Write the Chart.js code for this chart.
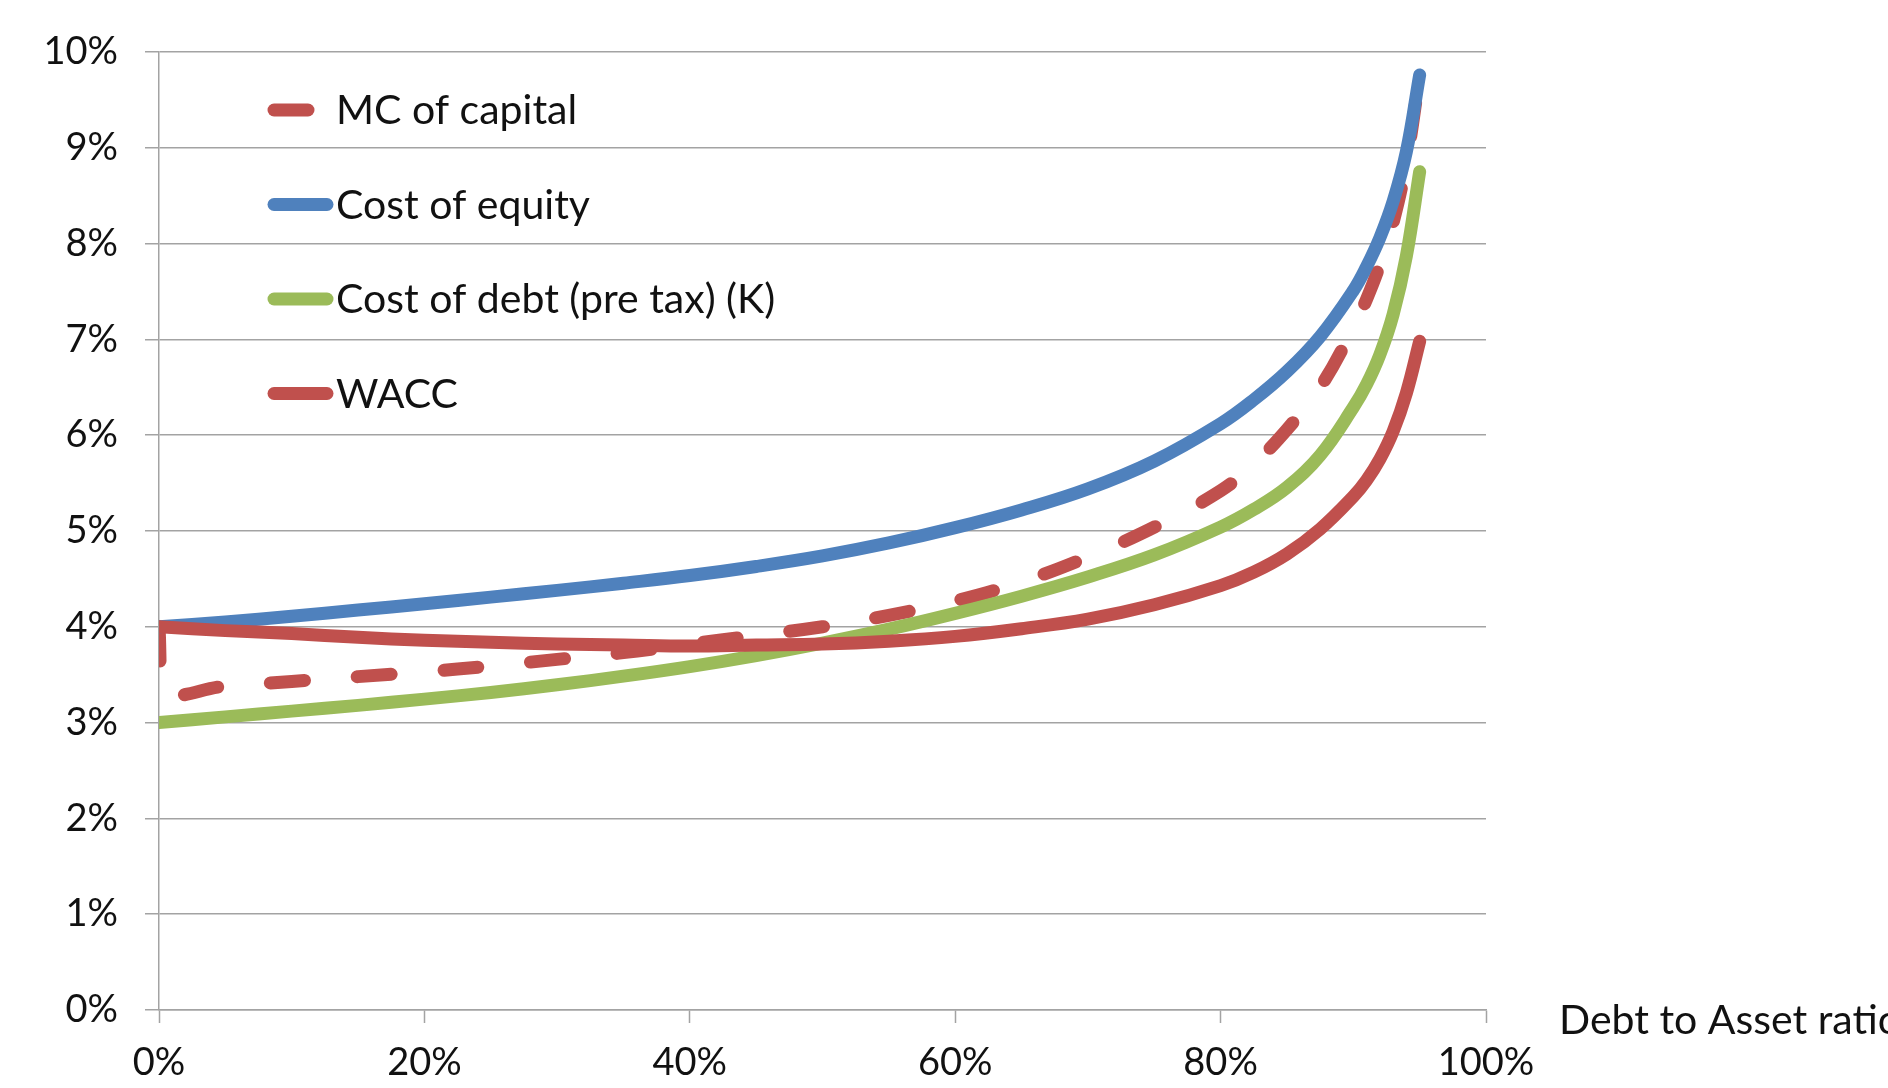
<!DOCTYPE html>
<html>
<head>
<meta charset="utf-8">
<script src="https://cdn.jsdelivr.net/npm/chart.js@4/dist/chart.umd.min.js"></script>
<style>
  html, body { margin: 0; padding: 0; background: #ffffff; }
  #wrap { width: 1888px; height: 1088px; }
</style>
</head>
<body>
<div id="wrap"><canvas id="chart" width="1888" height="1088"></canvas></div>
<script>
// Series names, in legend order
const seriesNames = ['MC of capital', 'Cost of equity', 'Cost of debt (pre tax) (K)', 'WACC'];
const axisTitle = 'Debt to Asset ratio';

// Debt to asset ratio (%) for the equity, debt and WACC curves
const debtRatio = [0, 5, 10, 15, 20, 25, 30, 35, 40, 45, 50, 55, 60, 65, 70, 75, 80, 82.5, 85, 87.5, 90, 91, 92, 93, 94, 95];

// Cost of equity (%)
const costOfEquity = [4.00, 4.05, 4.11, 4.175, 4.24, 4.31, 4.38, 4.455, 4.535, 4.63, 4.74, 4.875, 5.035, 5.22, 5.44, 5.73, 6.12, 6.37, 6.665, 7.03, 7.51, 7.76, 8.06, 8.44, 8.96, 9.76];

// Cost of debt, pre tax (%)
const costOfDebt = [3.00, 3.06, 3.12, 3.18, 3.245, 3.315, 3.395, 3.485, 3.585, 3.70, 3.83, 3.975, 4.14, 4.32, 4.52, 4.75, 5.04, 5.225, 5.455, 5.79, 6.29, 6.53, 6.84, 7.26, 7.87, 8.75];

// Weighted average cost of capital (%)
const wacc = [4.00, 3.96, 3.93, 3.89, 3.86, 3.84, 3.82, 3.81, 3.80, 3.81, 3.82, 3.85, 3.90, 3.98, 4.08, 4.23, 4.43, 4.57, 4.76, 5.02, 5.36, 5.53, 5.75, 6.04, 6.44, 6.98];

// Marginal cost of capital: its own ratio grid (drops right after 0% debt)
const mcDebtRatio = [0, 0.3, 5, 10, 15, 20, 25, 30, 35, 40, 45, 50, 55, 60, 65, 70, 75, 80, 82.5, 85, 87.5, 90, 91, 92, 93, 94, 95];
const mcOfCapital = [4.00, 3.33, 3.38, 3.43, 3.48, 3.53, 3.59, 3.66, 3.73, 3.82, 3.91, 4.00, 4.12, 4.27, 4.47, 4.73, 5.04, 5.42, 5.70, 6.06, 6.50, 7.12, 7.42, 7.78, 8.22, 8.85, 9.76];

// Axis ranges and tick steps (%)
const xTickStep = 20, xMax = 100;
const yTickStep = 1, yMax = 10;

const RED = '#C0504D', BLUE = '#4F81BD', GREEN = '#9BBB59';
const GRID = '#a3a3a3';
const TEXT = '#111111';
const FONT_FAMILY = 'Lato, "Open Sans", sans-serif';
const TICK_FONT_SIZE = 38;
const LABEL_FONT_SIZE = 41;
const LINE_W = 13;
const DASH = [34, 53];

const toPoints = (xs, ys) => xs.map((x, i) => ({ x, y: ys[i] }));

// Legend drawn inside the plot area, stacked vertically
const innerLegend = {
  id: 'innerLegend',
  afterDatasetsDraw(chart) {
    const { ctx, chartArea } = chart;
    const x0 = chartArea.left + 115;
    const x1 = chartArea.left + 168;
    const tx = chartArea.left + 177;
    const y0 = chartArea.top + 58;
    const step = 94.5;
    ctx.save();
    ctx.font = LABEL_FONT_SIZE + 'px ' + FONT_FAMILY;
    ctx.textAlign = 'left';
    ctx.textBaseline = 'middle';
    chart.data.datasets.forEach((ds, i) => {
      const y = y0 + i * step;
      ctx.beginPath();
      ctx.lineWidth = LINE_W;
      ctx.lineCap = 'round';
      ctx.strokeStyle = ds.borderColor;
      ctx.setLineDash(ds.borderDash || []);
      ctx.moveTo(x0, y);
      ctx.lineTo(x1, y);
      ctx.stroke();
      ctx.setLineDash([]);
      ctx.fillStyle = TEXT;
      ctx.fillText(ds.label, tx, y + 1);
    });
    ctx.restore();
  }
};

// Horizontal axis title, placed to the right of the axis end
const sideAxisTitle = {
  id: 'sideAxisTitle',
  afterDraw(chart) {
    const { ctx, chartArea } = chart;
    ctx.save();
    ctx.font = LABEL_FONT_SIZE + 'px ' + FONT_FAMILY;
    ctx.fillStyle = TEXT;
    ctx.textAlign = 'left';
    ctx.textBaseline = 'alphabetic';
    ctx.fillText(axisTitle, chartArea.right + 73, chartArea.bottom + 24);
    ctx.restore();
  }
};

function draw() {
  const common = {
    fill: false,
    pointRadius: 0,
    pointHoverRadius: 0,
    borderWidth: LINE_W,
    borderCapStyle: 'round',
    borderJoinStyle: 'round',
    tension: 0.4
  };

  new Chart(document.getElementById('chart'), {
    type: 'line',
    data: {
      datasets: [
        { ...common, label: seriesNames[0], data: toPoints(mcDebtRatio, mcOfCapital), borderColor: RED, borderDash: DASH, order: 3 },
        { ...common, label: seriesNames[1], data: toPoints(debtRatio, costOfEquity), borderColor: BLUE, order: 2 },
        { ...common, label: seriesNames[2], data: toPoints(debtRatio, costOfDebt), borderColor: GREEN, order: 1 },
        { ...common, label: seriesNames[3], data: toPoints(debtRatio, wacc), borderColor: RED, order: 0 }
      ]
    },
    options: {
      responsive: false,
      animation: false,
      devicePixelRatio: 1,
      layout: { padding: { top: 52, right: 402, left: 0, bottom: 0 } },
      plugins: {
        legend: { display: false },
        tooltip: { enabled: false },
        title: { display: false }
      },
      scales: {
        x: {
          type: 'linear',
          min: 0,
          max: xMax,
          afterFit: (s) => { s.height = 78; },
          ticks: {
            stepSize: xTickStep,
            padding: 17,
            color: TEXT,
            font: { family: FONT_FAMILY, size: TICK_FONT_SIZE },
            maxRotation: 0,
            callback: (v) => v + '%'
          },
          grid: {
            drawOnChartArea: false,
            drawTicks: true,
            tickLength: 13,
            tickColor: GRID,
            tickWidth: 1.5
          },
          border: { display: true, color: GRID, width: 1.5 }
        },
        y: {
          min: 0,
          max: yMax,
          afterFit: (s) => { s.width = 159; },
          ticks: {
            stepSize: yTickStep,
            padding: 27,
            color: TEXT,
            font: { family: FONT_FAMILY, size: TICK_FONT_SIZE },
            callback: (v) => v + '%'
          },
          grid: {
            color: GRID,
            lineWidth: 1.5,
            tickLength: 14,
            drawTicks: true
          },
          border: { display: true, color: GRID, width: 1.5 }
        }
      }
    },
    plugins: [innerLegend, sideAxisTitle]
  });
}

if (document.fonts && document.fonts.load) {
  document.fonts.load(LABEL_FONT_SIZE + 'px Lato').then(draw, draw);
} else {
  draw();
}
</script>
</body>
</html>
